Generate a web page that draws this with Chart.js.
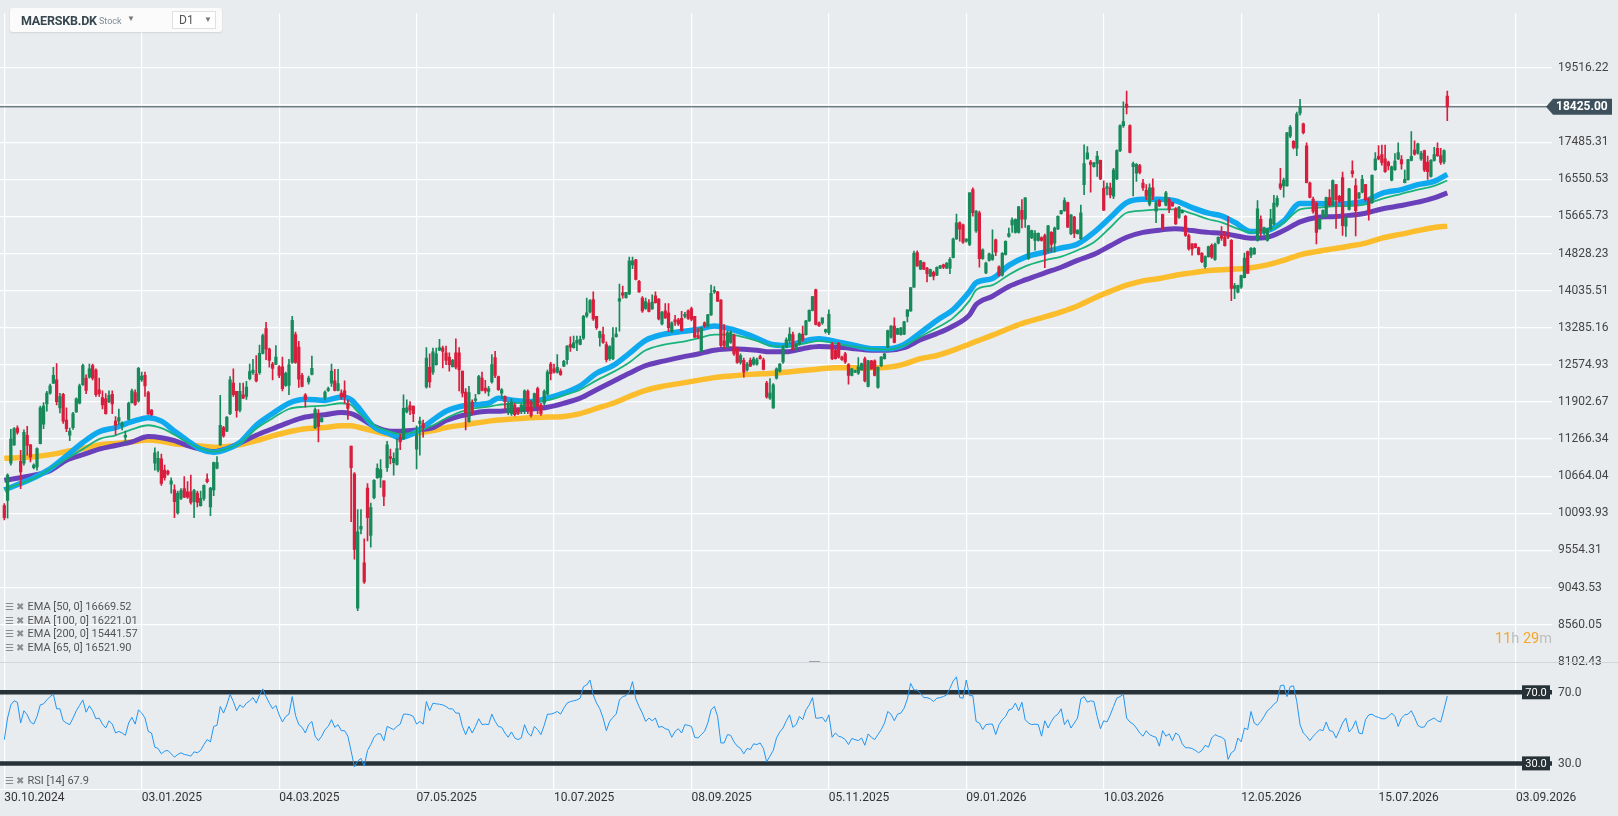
<!DOCTYPE html>
<html><head><meta charset="utf-8">
<script src="https://cdn.jsdelivr.net/npm/chart.js@4.4.0/dist/chart.umd.min.js"></script>
<style>
html,body{margin:0;padding:0;background:#e9ecef;overflow:hidden;}
#wrap{position:relative;width:1618px;height:816px;font-family:Roboto,'Open Sans',sans-serif;}
#c{position:absolute;left:0;top:0;}
.hdr{position:absolute;left:10px;top:8px;width:212px;height:24px;background:#fbfbfc;border-radius:3px;box-shadow:0 1px 2px rgba(0,0,0,0.10);}
.abs{position:absolute;white-space:nowrap;}
.lg{position:absolute;left:5px;font-size:11px;color:#555;white-space:nowrap;line-height:13px;}
.lg .ic{color:#8d8d8d;font-size:10px;margin-right:3px;}
.cd{position:absolute;left:1495px;top:630px;font-size:14.5px;white-space:nowrap;}
.cd .o{color:#f6a623;} .cd .g{color:#bdbdbd;}
</style></head>
<body><div id="wrap">
<canvas id="c" width="1618" height="816"></canvas>
<div class="hdr">
  <span class="abs" style="left:11px;top:5px;font-weight:bold;font-size:12.5px;letter-spacing:-0.2px;color:#37474f;">MAERSKB.DK</span>
  <span class="abs" style="left:89px;top:8px;font-size:9px;color:#7d8c94;">Stock</span>
  <span class="abs" style="left:117px;top:6px;font-size:8px;color:#777;">&#9660;</span>
  <div class="abs" style="left:162px;top:3px;width:42px;height:16px;border:1px solid #e0e0e0;background:#fff;">
    <span class="abs" style="left:6px;top:1px;font-size:12px;color:#555;">D1</span>
    <span class="abs" style="left:31px;top:3px;font-size:8px;color:#777;">&#9660;</span>
  </div>
</div>
<div class="lg" style="top:600px;"><span class="ic">&#9776; &#10006;</span>EMA [50, 0] 16669.52</div>
<div class="lg" style="top:614px;"><span class="ic">&#9776; &#10006;</span>EMA [100, 0] 16221.01</div>
<div class="lg" style="top:627px;"><span class="ic">&#9776; &#10006;</span>EMA [200, 0] 15441.57</div>
<div class="lg" style="top:641px;"><span class="ic">&#9776; &#10006;</span>EMA [65, 0] 16521.90</div>
<div class="lg" style="top:774px;"><span class="ic">&#9776; &#10006;</span>RSI [14] 67.9</div>
<div class="cd"><span class="o">11</span><span class="g">h</span> <span class="o">29</span><span class="g">m</span></div>
<div class="abs" style="left:809px;top:661px;width:11px;height:1px;background:#9aa3aa;"></div>
</div>
<script>
const dates = ['30.10.2024','03.01.2025','04.03.2025','07.05.2025','10.07.2025','08.09.2025','05.11.2025','09.01.2026','10.03.2026','12.05.2026','15.07.2026','03.09.2026'];
const dateIdx = [0,42,84,126,168,210,252,294,336,378,420,462];

const open = [
10210,10290,10870,11170,11450,10900,10870,11330,11170,10800,
10810,11190,11520,11870,12060,12240,12300,11800,12040,11590,
11330,11460,11730,11880,12210,12330,12350,12560,12480,12120,
11980,11960,11910,12040,11570,11570,11490,11300,11600,11890,
12070,11920,12300,12380,12070,11760,10870,10760,10940,10760,
10740,10540,10450,10100,10320,10470,10420,10420,10270,10400,
10210,10320,10620,10190,10450,10790,11170,11460,11400,11700,
12240,12090,11760,12030,12000,12320,12430,12410,12430,12790,
13270,12870,12590,12590,12540,12540,12200,12200,12620,13150,
12910,12380,12030,12260,12400,11460,11700,11560,11980,12110,
12240,12280,12110,12060,12100,11880,11150,10700,8770,9860,
9380,10480,9770,10330,10640,10645,10590,10800,10980,10880,
10850,11290,11270,11730,11840,11830,11100,11530,11530,12170,
12530,12440,12580,12850,12890,12800,12720,12540,12800,12800,
12460,12080,11560,11900,11930,12050,12330,12150,12090,12260,
12710,12360,12060,12000,11720,11700,11850,11760,11740,11820,
12090,11900,11820,12140,11850,11880,12040,12590,12500,12440,
12460,12550,12670,12960,12900,12990,12960,13080,13520,13600,
13850,13510,13090,13150,12960,12690,12690,13110,13820,13990,
13890,13970,14580,14690,14230,13880,13670,13780,13660,13930,
13860,13360,13620,13580,13210,13440,13440,13470,13510,13620,
13670,13510,13130,12830,13380,13320,13540,14010,14010,13840,
13030,12910,13000,13130,12880,12620,12660,12480,12660,12590,
12590,12730,12670,12240,11970,11800,12330,12460,12630,12910,
13030,13150,12870,12970,13160,13150,13420,13630,14050,13380,
13380,13210,13190,12970,12850,12980,12720,12780,12580,12380,
12440,12420,12480,12690,12180,12650,12650,12160,12560,12690,
12910,13100,13320,13160,13150,13160,13510,13620,14110,14850,
14490,14630,14510,14340,14420,14360,14510,14580,14510,14510,
14740,15150,15520,15470,15100,15030,16300,15330,15750,14716,
14410,14680,14700,15130,14540,14360,14810,15210,15470,15300,
15300,15810,15600,14716,15180,15120,15120,15180,15230,14860,
15300,15060,15380,15730,15800,15990,15270,15650,15270,15160,
16420,17060,16980,16860,16940,17020,16330,16330,16340,16140,
16560,17270,17920,18500,17920,16860,16700,16890,16460,16280,
15950,16340,15790,16040,15710,15930,16060,15990,15850,15640,
15750,15670,15230,15040,15040,14960,14830,14540,14760,15010,
14700,15060,15230,15190,15240,15120,14084,14003,14110,14310,
14870,14790,14820,15120,15600,15300,15120,15380,15490,15930,
16440,16390,16390,17640,17510,17330,18250,17970,17390,16460,
16070,15970,15380,15640,15670,16110,15930,16420,16140,16590,
15440,15830,16760,16400,16100,16240,16420,16080,15990,16790,
17120,17170,17060,16980,16530,16790,17060,17040,16470,16540,
17020,17280,17200,17060,17270,16980,16620,17020,17330,17140,
16980,18720];

const high = [
10240,10700,11430,11460,11490,11080,11420,11480,11180,10860,
11120,11830,11890,12090,12220,12530,12600,12055,12055,11800,
11450,11720,11975,12220,12590,12390,12590,12590,12500,12330,
12100,12050,12100,12100,11650,11780,11560,11400,11900,12130,
12120,12530,12440,12440,12090,11770,11120,11060,11020,10840,
10760,10640,10530,10430,10470,10660,10580,10680,10460,10430,
10430,10530,10700,10490,10890,10980,12020,11480,11650,12360,
12500,12090,12240,12240,12270,12590,12680,12750,12950,13160,
13390,12890,12620,12940,12560,12720,12440,12680,13510,13200,
13020,12420,12050,12370,12740,11800,11770,11660,12100,12170,
12590,12490,12490,12120,12280,11940,11150,10720,10150,10150,
9720,10550,10250,10610,10860,10930,10590,11230,11100,11040,
11270,11350,12030,11940,11910,11830,11490,11640,11590,12900,
12780,12890,12890,13060,12930,12930,12800,12680,13070,12900,
12460,12140,12180,11940,12040,12380,12440,12290,12180,12770,
12830,12370,12140,12010,11900,11960,11880,11800,11870,12120,
12120,11930,12060,12170,11880,12120,12480,12620,12590,12770,
12500,12660,12940,13110,13120,13120,13120,13530,13880,13850,
14010,13510,13220,13300,13010,12940,13290,13290,14170,14130,
14000,14750,14750,14700,14250,13910,13880,13850,13950,14010,
13870,13610,13770,13770,13400,13530,13470,13610,13590,13640,
13700,13510,13270,13285,13400,13550,14150,14120,14020,13850,
13350,13220,13220,13160,12910,12780,12700,12620,12700,12720,
12700,12760,12700,12270,12320,12230,12520,12600,12940,13090,
13290,13200,12980,13180,13320,13430,13640,13920,14070,13400,
13480,13260,13640,13000,12880,13000,12740,12810,12600,12510,
12480,12710,12610,12720,12660,12660,12670,12540,12730,12790,
13240,13330,13480,13280,13290,13410,13640,14100,14880,14890,
14680,14640,14530,14490,14450,14540,14570,14600,14630,14740,
15170,15720,15540,15490,15160,16230,16340,15800,15790,14930,
14640,14840,15360,15150,14560,14850,15110,15400,15630,15610,
15900,16060,16110,15460,15350,15340,15290,15200,15260,15460,
15320,15420,15680,15810,16100,16000,15710,15670,15360,15930,
17420,17370,17020,16970,17250,17030,16510,16460,16460,16820,
17290,17940,18560,18860,17940,16980,16940,16920,16550,16420,
16440,16560,16030,16060,15720,16260,16100,16000,15870,15900,
15820,15690,15260,15050,15050,14970,14850,14780,14990,15040,
15060,15200,15430,15320,15660,15140,14190,14150,14360,14840,
14880,14960,14960,16040,15680,15420,15400,15830,16160,16150,
16820,16580,17740,17930,17530,18280,18630,17990,17470,16480,
16120,16010,15620,15820,16120,16300,16540,16430,16160,16730,
15660,16330,17010,16560,16230,16650,16430,16100,16660,17220,
17400,17410,17410,17000,16880,17190,17470,17140,16780,17050,
17760,17520,17460,17250,17280,17130,17040,17350,17470,17330,
17290,18860];

const low = [
9995,10020,10840,11160,11350,10470,10840,11000,10890,10780,
10760,11185,11440,11740,12040,12230,11850,11710,11530,11390,
11240,11430,11720,11870,12200,12050,12330,12300,12000,12000,
11780,11690,11890,11700,11340,11520,11420,11200,11590,11880,
11840,11900,12270,12000,11690,11660,10760,10730,10520,10600,
10680,10400,10030,10080,10300,10330,10320,10230,10030,10190,
10200,10290,10560,10060,10360,10780,11160,11300,11390,11680,
12000,11640,11730,11960,11950,12300,12400,12260,12400,12780,
12670,12530,12300,12580,12340,12100,12180,12030,12600,12600,
12160,12170,11810,12220,12390,11440,11220,11550,11940,12090,
12180,12100,12100,11950,11880,11600,9970,9430,8740,9790,
9100,9690,9600,10310,10630,10490,10210,10740,10860,10680,
10840,11090,11260,11710,11680,11560,10780,11000,11300,12150,
12160,12400,12570,12840,12520,12580,12460,12530,12500,12100,
11990,11420,11550,11690,11900,12040,12100,12060,12010,12240,
12340,12110,11960,11780,11680,11670,11660,11680,11700,11700,
11700,11640,11800,11700,11670,11850,12020,12300,12420,12420,
12380,12540,12590,12830,12890,12840,12950,13060,13490,13580,
13430,13250,12930,12980,12630,12660,12670,13100,13220,13880,
13880,13950,14500,14260,14000,13590,13650,13600,13650,13780,
13440,13340,13470,13210,13190,13330,13330,13220,13480,13450,
13420,13090,13070,12820,13290,13300,13530,13980,13810,12920,
12880,12900,12980,12750,12600,12590,12350,12460,12540,12570,
12570,12680,12480,11970,11950,11790,12310,12440,12600,12900,
12970,12850,12850,12950,13020,13140,13410,13620,13340,13310,
13350,13180,13150,12670,12680,12700,12660,12600,12220,12370,
12430,12400,12470,12260,12170,12490,12370,12150,12540,12680,
12900,13080,12990,13150,13140,13150,13400,13610,14100,14550,
14480,14480,14220,14330,14260,14350,14500,14500,14500,14390,
14730,15140,15100,15050,15080,15000,15670,15300,14530,14700,
14390,14660,14680,14780,14340,14340,14790,15190,15300,15280,
15280,15400,15410,14700,15160,14900,15100,15100,14520,14850,
14860,14860,15360,15720,15780,15410,15250,15180,15260,15140,
16180,17050,16240,16850,16620,16540,15800,16170,16100,16080,
16540,17240,17870,18230,17210,16150,16500,16680,16280,16060,
15910,16060,15520,15900,15370,15910,15750,15900,15480,15620,
15740,15210,14900,14790,14950,14800,14630,14510,14750,14720,
14680,15040,15120,14990,15160,13830,13870,13990,14080,14300,
14400,14740,14810,15100,15220,15240,15100,15350,15470,15890,
16300,16120,16380,17600,17310,17140,18200,17700,16460,16100,
15740,15040,15370,15630,15660,15900,15910,15390,15990,15230,
15210,15810,16600,15220,16080,16220,16020,15580,15970,16770,
17030,16900,16720,16780,16510,16770,17040,16800,16460,16530,
17010,17150,17180,17020,16740,16550,16600,17000,17120,16920,
16930,18050];

const close = [
10030,10680,11266,11445,11380,10730,11380,11160,10970,10840,
11110,11800,11830,12060,12190,12380,11910,12000,11570,11440,
11400,11700,11960,12190,12560,12110,12500,12330,12030,12050,
11850,11700,12020,11870,11500,11630,11540,11330,11880,12100,
11860,12510,12370,12190,11690,11680,11040,10950,10550,10640,
10700,10590,10270,10400,10440,10340,10340,10260,10440,10260,
10320,10520,10580,10480,10880,10880,11500,11320,11640,12300,
12030,11750,12090,11970,12170,12450,12480,12280,12790,13130,
12870,12660,12510,12720,12380,12140,12420,12575,13430,12620,
12310,12180,11950,12330,12510,11770,11480,11620,12080,12140,
12460,12110,12230,11990,11990,11790,10800,9570,9820,9900,
9120,10030,10180,10600,10790,10770,10350,11170,10950,10950,
11110,11220,11790,11800,11760,11700,11340,11570,11460,12700,
12260,12820,12780,12900,12830,12660,12580,12660,12530,12480,
12060,11710,12070,11710,11960,12360,12110,12100,12140,12580,
12380,12120,12120,11910,11880,11900,11680,11700,11850,12100,
11740,11670,12050,11820,11700,12090,12440,12410,12440,12530,
12400,12640,12930,12910,12990,13040,13060,13510,13580,13830,
13460,13285,13210,13000,12670,12920,13090,13160,13870,13940,
14000,14670,14670,14270,14010,13620,13810,13610,13800,13790,
13460,13590,13480,13285,13380,13400,13360,13230,13550,13470,
13450,13100,13100,13285,13320,13540,13980,14040,13820,12940,
12940,13190,13190,12780,12620,12750,12440,12590,12550,12690,
12670,12690,12490,11990,12060,12210,12500,12590,12880,13050,
13160,12860,12960,13160,13050,13420,13630,13910,13350,13320,
13480,13250,13550,12690,12690,12720,12670,12630,12380,12500,
12470,12540,12600,12280,12650,12500,12380,12530,12720,12780,
13230,13320,13000,13270,13285,13400,13640,14100,14830,14560,
14670,14490,14390,14480,14340,14530,14560,14530,14620,14700,
15150,15520,15370,15080,15150,16220,15750,15790,14716,14910,
14620,14820,14800,14860,14360,14835,15100,15270,15580,15600,
15890,15600,16100,15450,15340,15280,15280,15120,14810,15450,
15030,15400,15670,15800,16040,15420,15700,15280,15350,15750,
16940,17210,16920,16960,17130,16560,15810,16370,16170,16780,
17270,17920,18030,18410,17220,16940,16920,16720,16340,16140,
16340,16140,15990,15910,15380,16220,15830,15910,15490,15880,
15800,15230,14930,14930,14960,14810,14650,14760,14980,14750,
15030,15190,15170,15000,15190,14080,14140,14140,14350,14730,
14400,14940,14940,15840,15340,15410,15380,15610,15980,16090,
16340,16530,17730,17880,17350,18230,18430,17730,16470,16110,
15780,15300,15600,15810,16110,15930,16520,16060,16020,15450,
15640,16320,16690,15800,16220,16550,16060,15740,16650,17060,
17060,16960,16740,16880,16860,17000,17220,16930,16550,17040,
17120,17180,17440,17200,16780,16740,17020,17170,17140,16970,
17270,18425];

const emaIdx = [0,9,14,19,24,29,34,39,44,48,52,56,60,64,68,72,77,82,87,92,
98,103,106,108,113,118,121,126,131,135,141,148,151,156,161,166,171,176,181,186,
191,196,201,207,212,217,222,226,230,234,239,244,249,254,260,265,270,275,280,285,
290,295,297,302,307,312,318,323,328,333,338,343,348,353,358,363,368,372,376,381,
386,391,396,401,406,411,416,421,427,432,437,441];
const ema50 = [10450,10640,10780,10990,11210,11390,11460,11560,11630,11570,
11400,11240,11100,11050,11100,11210,11500,11700,11880,11950,
11930,11990,11940,11820,11470,11350,11290,11390,11590,11740,
11840,11880,11970,11930,11910,11970,12060,12190,12420,12560,
12790,13040,13150,13210,13250,13320,13260,13180,13080,12970,
12940,13020,13070,13020,12940,12880,12880,12960,13190,13430,
13650,14020,14200,14290,14570,14750,14860,14950,15040,15300,
15640,15990,16070,16070,16030,15870,15740,15680,15530,15320,
15340,15560,15970,15970,15950,15970,16030,16210,16300,16420,
16500,16670];
const ema65 = [10460,10630,10780,10940,11100,11266,11330,11430,11500,11450,
11340,11210,11110,11060,11110,11200,11440,11620,11780,11820,
11840,11880,11850,11730,11500,11390,11350,11390,11500,11620,
11760,11820,11850,11880,11900,11930,12020,12120,12290,12440,
12620,12850,12950,13010,13080,13150,13150,13100,13030,12940,
12920,12970,13030,12980,12920,12880,12860,12940,13110,13285,
13480,13830,14050,14150,14370,14550,14680,14760,14900,15080,
15410,15750,15800,15830,15830,15730,15600,15530,15410,15300,
15340,15520,15830,15870,15900,15910,15950,16080,16200,16300,
16390,16522];
const ema100 = [10600,10680,10750,10920,11010,11100,11160,11220,11310,11290,
11240,11160,11100,11060,11110,11200,11330,11440,11550,11640,
11680,11720,11700,11650,11480,11400,11400,11420,11460,11580,
11680,11740,11740,11760,11780,11810,11880,11970,12120,12270,
12420,12560,12640,12720,12780,12850,12880,12870,12850,12820,
12820,12880,12920,12910,12880,12850,12850,12900,13050,13170,
13320,13540,13750,13920,14120,14260,14410,14530,14680,14810,
15000,15190,15300,15350,15380,15340,15300,15280,15230,15170,
15190,15340,15540,15640,15660,15690,15740,15840,15920,16000,
16100,16221];
const ema200 = [10950,10975,11010,11060,11110,11170,11195,11220,11250,11230,
11190,11170,11150,11130,11145,11170,11240,11320,11390,11440,
11460,11490,11490,11470,11400,11340,11330,11370,11410,11460,
11510,11570,11590,11610,11630,11640,11650,11700,11790,11880,
12000,12110,12180,12240,12290,12340,12370,12390,12405,12415,
12440,12470,12500,12520,12520,12520,12530,12590,12690,12750,
12850,12970,13020,13140,13270,13390,13500,13600,13720,13880,
14020,14150,14240,14290,14360,14410,14460,14475,14490,14520,
14580,14680,14800,14870,14930,14990,15060,15170,15260,15340,
15410,15442];

const rsi = [
43.4,55.5,62.9,65.2,64.4,52.7,59.6,57.3,53.3,52.1,
56.4,62.9,63.5,65.7,67.6,68.9,60.7,60.7,54,52.7,
51.8,55.5,59.6,62.6,65.7,58.8,62.4,59.6,55.1,55.5,
52.1,49.9,54,52.1,47.1,48,47.1,45.8,52.7,55.9,
52.1,60.1,58.3,55.5,48,47.1,39.1,38.4,35.4,36.9,
37.3,35.4,33.5,35,36,35,34.7,34.1,36.5,36,
37.3,40.6,43.4,42.1,50.8,51.4,62,58.3,62.9,68.9,
64.8,59.6,62.9,61.4,63.9,65.2,67,63.9,68.5,71.9,
67.6,63.9,60.7,62.6,57.3,53.3,56.4,57.7,67.6,57,
51.8,50.3,47.1,51.8,53.6,45.3,42.8,45.3,49,50.8,
54.6,50.3,51.8,48.4,48.4,45.3,36.9,28,31.3,32.8,
28.5,37.3,40.6,44.7,46.6,46.6,42.8,50.8,49.9,49,
50.8,52.1,57.7,57.7,57.3,56.4,52.1,53.6,52.1,64.8,
59.6,63.9,63.5,63.3,62.9,62,60.7,60.7,58.3,58.3,
50.8,46.2,50.8,47.1,50.8,55.1,51.8,52.1,51.8,57.7,
53.6,50.8,50.3,47.1,44.7,47.7,44.3,43.4,44.3,51.8,
47.1,45.3,50.8,49,46.2,51.4,57.7,57.7,58.3,59.2,
57.7,61.1,63.9,64.8,65.2,65.7,66.7,73.2,74.1,76.9,
68.5,63.9,60.7,55.5,48.4,53.6,55.9,57.7,65.7,67.6,
68.1,70,76,66.3,62,58.3,53.6,55.5,54,55.5,
50.3,50.8,49.5,49,44.7,48,49.5,47.1,51.8,51.4,
50.8,44.7,44.3,46.2,48,52.7,60.1,62,56.4,41.5,
41.5,46.2,45.8,42.1,39.7,38.4,35.4,38.4,37.8,41,
40.6,41.5,38.4,30.9,34.1,37.3,44.3,47.7,49.9,54,
57.3,50.3,51.8,56.4,54.6,60.1,62.9,67,55.5,55.5,
55.9,53.3,57.3,44.7,47.1,45.3,44.7,43.4,40.6,44,
43.4,42.8,44.3,40.2,46.6,44.7,43.4,46.2,49,52.7,
59.2,57.7,54,57.7,58.3,61.1,66.3,75,71.3,71.3,
69.4,67,67,66.3,64.8,66.7,67,67.6,68.5,72.2,
76.3,78.7,67,66.7,76.9,68.1,68.1,53.6,52.7,49,
51.8,52.1,52.1,46.2,51.8,54.6,56.4,60.1,60.7,63.9,
59.6,64.4,54.6,52.7,51.8,52.1,51.8,45.3,54,49.9,
53.6,56.4,57.7,60.7,51.8,54.6,49.9,52.7,55.5,66.3,
67.6,64.4,65.2,64.8,56.4,49.5,54,53.3,57.3,62,
66.7,67.6,68.9,55.5,53.3,52.1,49.9,47.1,45.3,48.4,
46.2,45.3,44.7,39.7,48.4,45.3,46.6,42.8,47.1,45.8,
41,38.8,38.8,38.4,37.3,36,37.3,40.2,39.1,44.3,
46.2,45.3,44.7,43.4,32.2,36,37.3,44.3,42.1,49.9,
49,59.2,52.7,51.4,53.6,56.4,59.6,61.1,63.3,64.8,
73.7,74.1,67.6,73.2,73.6,64.8,51.8,47.1,45.3,42.8,
45.3,47.1,49,48.4,53.3,48.4,48,44.3,48.4,52.7,
55.5,47.7,49.9,54,47.1,46.6,54.6,57.3,57.7,56.4,
55.9,55.1,55.1,56.4,58.3,56.4,50.8,55.5,57.3,57.7,
59.6,55.9,51.4,50.3,50.5,53.6,54.6,55.5,54,53.3,
60.5,67.9];

const priceTicks = [8102.43,8560.05,9043.53,9554.31,10093.93,10664.04,11266.34,11902.67,12574.93,13285.16,14035.51,14828.23,15665.73,16550.53,17485.31,18472.73,19516.22];
const priceLabels = ['8102.43','8560.05','9043.53','9554.31','10093.93','10664.04','11266.34','11902.67','12574.93','13285.16','14035.51','14828.23','15665.73','16550.53','17485.31','','19516.22'];
const lastPrice = 18425;
const rsiLevels = [70, 30];

const UP = '#17895a', DN = '#d81e3c';
const XMIN = -1.314, XMAX = 473.0;

const idx = close.map((_, i) => i);
const candleColors = idx.map(i => close[i] >= open[i] ? UP : DN);
const wickData = idx.map(i => ({x: i, y: [low[i], high[i]]}));
const bodyData = idx.map(i => ({x: i, y: [Math.min(open[i], close[i]), Math.max(open[i], close[i])]}));
const emaSeries = arr => emaIdx.map((k, j) => ({x: k, y: arr[j]}));
const rsiData = rsi.map((v, i) => ({x: i, y: v}));

const extras = {
  id: 'extras',
  afterDraw(chart) {
    const ctx = chart.ctx, y = chart.scales.y, r = chart.scales.yRsi;
    ctx.save();
    const ys = Math.round(y.getPixelForValue(8102.43)) + 0.5;
    ctx.strokeStyle = '#d2d6da'; ctx.lineWidth = 1;
    ctx.beginPath(); ctx.moveTo(0, ys); ctx.lineTo(1618, ys); ctx.stroke();
    const yp = y.getPixelForValue(lastPrice);
    ctx.fillStyle = '#3e505c';
    ctx.beginPath();
    ctx.moveTo(1546, yp); ctx.lineTo(1553, yp - 8); ctx.lineTo(1612, yp - 8);
    ctx.lineTo(1612, yp + 8); ctx.lineTo(1553, yp + 8); ctx.closePath(); ctx.fill();
    ctx.fillStyle = '#ffffff'; ctx.font = 'bold 12px Roboto'; ctx.textAlign = 'left'; ctx.textBaseline = 'middle';
    ctx.fillText(lastPrice.toFixed(2), 1556, yp + 0.5);
    rsiLevels.forEach(v => {
      const py = r.getPixelForValue(v);
      ctx.fillStyle = '#263238'; ctx.fillRect(1522, py - 7, 28, 14);
      ctx.fillStyle = '#ffffff'; ctx.font = '11px Roboto'; ctx.textAlign = 'center';
      ctx.fillText(v.toFixed(1), 1536, py + 0.5);
      ctx.fillStyle = '#444'; ctx.font = '12px Roboto'; ctx.textAlign = 'left';
      ctx.fillText(v.toFixed(1), 1558, py + 0.5);
    });
    ctx.restore();
  }
};

const lineBase = {type: 'line', pointRadius: 0, fill: false, cubicInterpolationMode: 'monotone', yAxisID: 'y'};

new Chart(document.getElementById('c'), {
  type: 'bar',
  data: {
    datasets: [
      {type: 'bar', label: 'body', data: bodyData, backgroundColor: candleColors, barThickness: 2.6, grouped: false, borderWidth: 0, yAxisID: 'y', order: 0},
      {type: 'bar', label: 'wick', data: wickData, backgroundColor: candleColors, barThickness: 1, grouped: false, borderWidth: 0, yAxisID: 'y', order: 1},
      Object.assign({}, lineBase, {label: 'EMA65', data: emaSeries(ema65), borderColor: '#19b47c', borderWidth: 1.8, order: 2}),
      Object.assign({}, lineBase, {label: 'EMA50', data: emaSeries(ema50), borderColor: '#0fa9ef', borderWidth: 5.5, order: 3}),
      Object.assign({}, lineBase, {label: 'EMA100', data: emaSeries(ema100), borderColor: '#6a3fba', borderWidth: 5, order: 4}),
      Object.assign({}, lineBase, {label: 'EMA200', data: emaSeries(ema200), borderColor: '#fbbd2c', borderWidth: 5.5, order: 5}),
      {type: 'line', label: 'last', data: [{x: XMIN, y: lastPrice}, {x: XMAX, y: lastPrice}], borderColor: '#37474f', borderWidth: 1, pointRadius: 0, yAxisID: 'y', order: 6},
      {type: 'line', label: 'RSI', data: rsiData, borderColor: '#2196f3', borderWidth: 1, pointRadius: 0, tension: 0, yAxisID: 'yRsi', order: 7},
      {type: 'line', label: 'r70', data: [{x: XMIN, y: 70}, {x: XMAX, y: 70}], borderColor: '#263238', borderWidth: 4.5, pointRadius: 0, yAxisID: 'yRsi', order: 8},
      {type: 'line', label: 'r30', data: [{x: XMIN, y: 30}, {x: XMAX, y: 30}], borderColor: '#263238', borderWidth: 4.5, pointRadius: 0, yAxisID: 'yRsi', order: 9}
    ]
  },
  options: {
    responsive: false, animation: false, devicePixelRatio: 1,
    layout: {padding: 0},
    plugins: {legend: {display: false}, tooltip: {enabled: false}},
    scales: {
      x: {
        type: 'linear', min: XMIN, max: XMAX, bounds: 'data', offset: false,
        grid: {offset: false, color: '#ffffff', lineWidth: 1.2, drawTicks: false},
        border: {display: true, color: '#ffffff', width: 1},
        afterBuildTicks: s => { s.ticks = dateIdx.map(v => ({value: v})); },
        afterFit: s => { s.height = 27; },
        ticks: {autoSkip: false, maxRotation: 0, minRotation: 0, align: 'start', padding: 2,
          color: '#333', font: {family: 'Roboto', size: 12},
          callback: (v, i) => dates[i]}
      },
      y: {
        type: 'logarithmic', position: 'right', min: 6711.5, max: 21164, bounds: 'data', beginAtZero: false,
        grid: {drawTicks: false, lineWidth: 1.2,
          color: c => (c.tick && c.tick.value === 8102.43) ? 'rgba(0,0,0,0)' : '#ffffff'},
        border: {display: false},
        afterBuildTicks: s => { s.ticks = priceTicks.map(v => ({value: v})); },
        afterFit: s => { s.width = 66; },
        ticks: {autoSkip: false, padding: 6, color: '#444', font: {family: 'Roboto', size: 12},
          callback: (v, i) => priceLabels[i]}
      },
      yRsi: {
        type: 'linear', axis: 'y', display: false, min: 15.6, max: 452, position: 'right'
      }
    }
  },
  plugins: [extras]
});
</script>
</body></html>
